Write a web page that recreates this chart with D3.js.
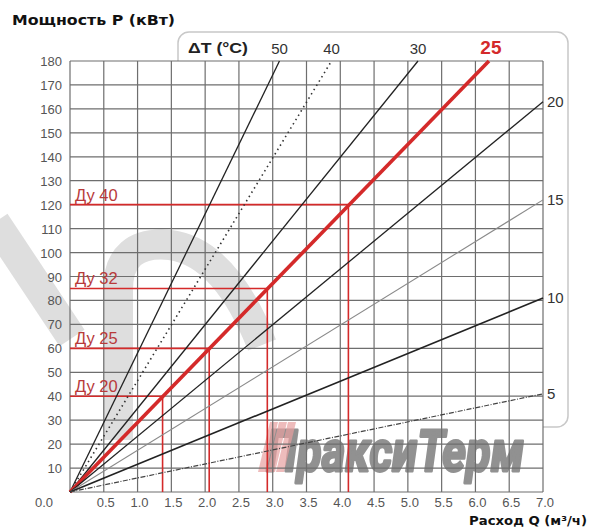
<!DOCTYPE html>
<html><head><meta charset="utf-8">
<script src="https://cdn.jsdelivr.net/npm/d3@7"></script>
<style>body{margin:0;background:#fff}svg{display:block}</style>
</head><body>
<script>
// ---- data ----
const xTicks = [0.5,1.0,1.5,2.0,2.5,3.0,3.5,4.0,4.5,5.0,5.5,6.0,6.5,7.0];
const yTicks = [10,20,30,40,50,60,70,80,90,100,110,120,130,140,150,160,170,180];
// ΔT lines: label and end point (Q, P), all start at origin
const dtLabels = ["50","40","30","25","20","15","10","5"];
const dtEndQ   = [3.1, 3.87, 5.15, 6.2, 7.0, 7.0, 7.0, 7.0];
const dtEndP   = [180, 180, 180, 180, 163, 122, 81, 41];
// nominal diameter markers
const dnLabels = ["Ду 40","Ду 32","Ду 25","Ду 20"];
const dnP      = [120, 85, 60, 40];
const dnQ      = [4.12, 2.92, 2.06, 1.37];

const W = 591, H = 531;
const svg = d3.select("body").append("svg").attr("width", W).attr("height", H);
const x = d3.scaleLinear().domain([0,7]).range([70,543]);
const y = d3.scaleLinear().domain([0,180]).range([492,61]);
const font = "'Liberation Sans', Arial, sans-serif";

// rounded frame
svg.append("rect").attr("x",178).attr("y",32).attr("width",390).attr("height",395)
  .attr("rx",11).attr("fill","#fff").attr("stroke","#c8c8c8").attr("stroke-width",1.5);

// plot background
svg.append("rect").attr("x",x(0)).attr("y",y(180)).attr("width",x(7)-x(0)).attr("height",y(0)-y(180)).attr("fill","#fff");

// faint watermark shapes
const wm = svg.append("g").attr("fill","none").attr("stroke","#dedede").attr("stroke-width",30).attr("stroke-linecap","butt");
wm.append("path").attr("d","M-5,222 L72,338");
wm.append("path").attr("d","M118,440 L118,290 Q118,240 170,245 Q225,252 262,345");

// logo text
svg.append("g").attr("transform","translate(266,471) scale(1,1.15)")
  .append("text").attr("x",0).attr("y",0).text("ПраксиТерм")
  .attr("font-family","Roboto,'Liberation Sans',Arial,sans-serif")
  .attr("font-weight","bold").attr("font-style","italic").attr("font-size",50)
  .attr("textLength",258).attr("lengthAdjust","spacingAndGlyphs")
  .attr("fill","#7e7e7e").attr("stroke","#7e7e7e").attr("stroke-width",2.5)
  .attr("stroke-linejoin","round").attr("opacity",0.85);
// red stripes of logo
const st = svg.append("g").attr("fill","#e8a0a0").attr("opacity",0.7);
[0,9,18].forEach(o=>{
  st.append("path").attr("d",`M${258+o},472 L${266+o},472 L${278+o},422 L${270+o},422 Z`);
});

// grid
const g = svg.append("g").attr("stroke","#6e6e6e").attr("stroke-width",1.2);
g.selectAll(".vx").data([0].concat(xTicks)).join("line")
  .attr("x1",d=>x(d)).attr("x2",d=>x(d)).attr("y1",y(0)).attr("y2",y(180));
g.selectAll(".hy").data([0].concat(yTicks)).join("line")
  .attr("y1",d=>y(d)).attr("y2",d=>y(d)).attr("x1",x(0)).attr("x2",x(7));

// Ду markers
const red = "#d42a2a";
const dn = svg.append("g");
dnLabels.forEach((lab,i)=>{
  dn.append("line").attr("x1",x(0)).attr("x2",x(dnQ[i])).attr("y1",y(dnP[i])).attr("y2",y(dnP[i]))
    .attr("stroke",red).attr("stroke-width",1.6);
  dn.append("line").attr("x1",x(dnQ[i])).attr("x2",x(dnQ[i])).attr("y1",y(dnP[i])).attr("y2",y(0))
    .attr("stroke",red).attr("stroke-width",1.6);
  dn.append("text").attr("x",x(0)+5).attr("y",y(dnP[i])-4).text(lab)
    .attr("font-family",font).attr("font-size",16.5).attr("fill","#b83a3a");
});

// ΔT lines
const styles = {
  "50":{c:"#222",w:1.3,d:null},
  "40":{c:"#333",w:1.6,d:"1.5,3.5"},
  "30":{c:"#222",w:1.3,d:null},
  "25":{c:red,w:3.6,d:null},
  "20":{c:"#222",w:1.3,d:null},
  "15":{c:"#8a8a8a",w:1.1,d:null},
  "10":{c:"#222",w:1.6,d:null},
  "5": {c:"#444",w:1.2,d:"5,1.5,1,1.5"}
};
const lg = svg.append("g").attr("stroke-linecap","butt");
dtLabels.forEach((lab,i)=>{
  const s = styles[lab];
  lg.append("line").attr("x1",x(0)).attr("y1",y(0)).attr("x2",x(dtEndQ[i])).attr("y2",y(dtEndP[i]))
    .attr("stroke",s.c).attr("stroke-width",s.w).attr("stroke-dasharray",s.d);
});

// ΔT labels
const lbl = svg.append("g").attr("font-family",font);
dtLabels.forEach((lab,i)=>{
  const top = dtEndP[i] === 180;
  const t = lbl.append("text").text(lab);
  if (top) {
    t.attr("x",x(dtEndQ[i]) + (lab==="25"?2:0)).attr("y",54).attr("text-anchor","middle");
  } else {
    t.attr("x",x(7)+4).attr("y",y(dtEndP[i])+5);
  }
  if (lab==="25") t.attr("fill",red).attr("font-size",19).attr("font-weight","bold");
  else t.attr("fill","#333").attr("font-size",15);
});
lbl.append("text").attr("x",188).attr("y",53).text("ΔТ (°C)")
  .attr("font-size",15).attr("font-weight","bold").attr("fill","#222")
  .attr("textLength",60).attr("lengthAdjust","spacingAndGlyphs");

// axes tick labels
const ax = svg.append("g").attr("font-family",font).attr("font-size",13).attr("fill","#555");
ax.selectAll(".yl").data(yTicks).join("text").attr("x",62).attr("y",d=>y(d)+5)
  .attr("text-anchor","end").text(d=>d);
ax.selectAll(".xl").data(xTicks).join("text").attr("x",d=>x(d)+2).attr("y",507)
  .attr("text-anchor","middle").text(d=>d.toFixed(1));
ax.append("text").attr("x",44).attr("y",507).attr("text-anchor","middle").text("0.0");

// titles
svg.append("text").attr("x",12).attr("y",25).text("Мощность Р (кВт)")
  .attr("font-family","'DejaVu Sans',sans-serif").attr("font-weight","bold").attr("font-size",14.5).attr("fill","#111")
  .attr("textLength",163).attr("lengthAdjust","spacingAndGlyphs");
svg.append("text").attr("x",587).attr("y",525).attr("text-anchor","end").text("Расход Q (м³/ч)")
  .attr("font-family","'DejaVu Sans',sans-serif").attr("font-weight","bold").attr("font-size",12.5).attr("fill","#111")
  .attr("textLength",118).attr("lengthAdjust","spacingAndGlyphs");
</script>
</body></html>
